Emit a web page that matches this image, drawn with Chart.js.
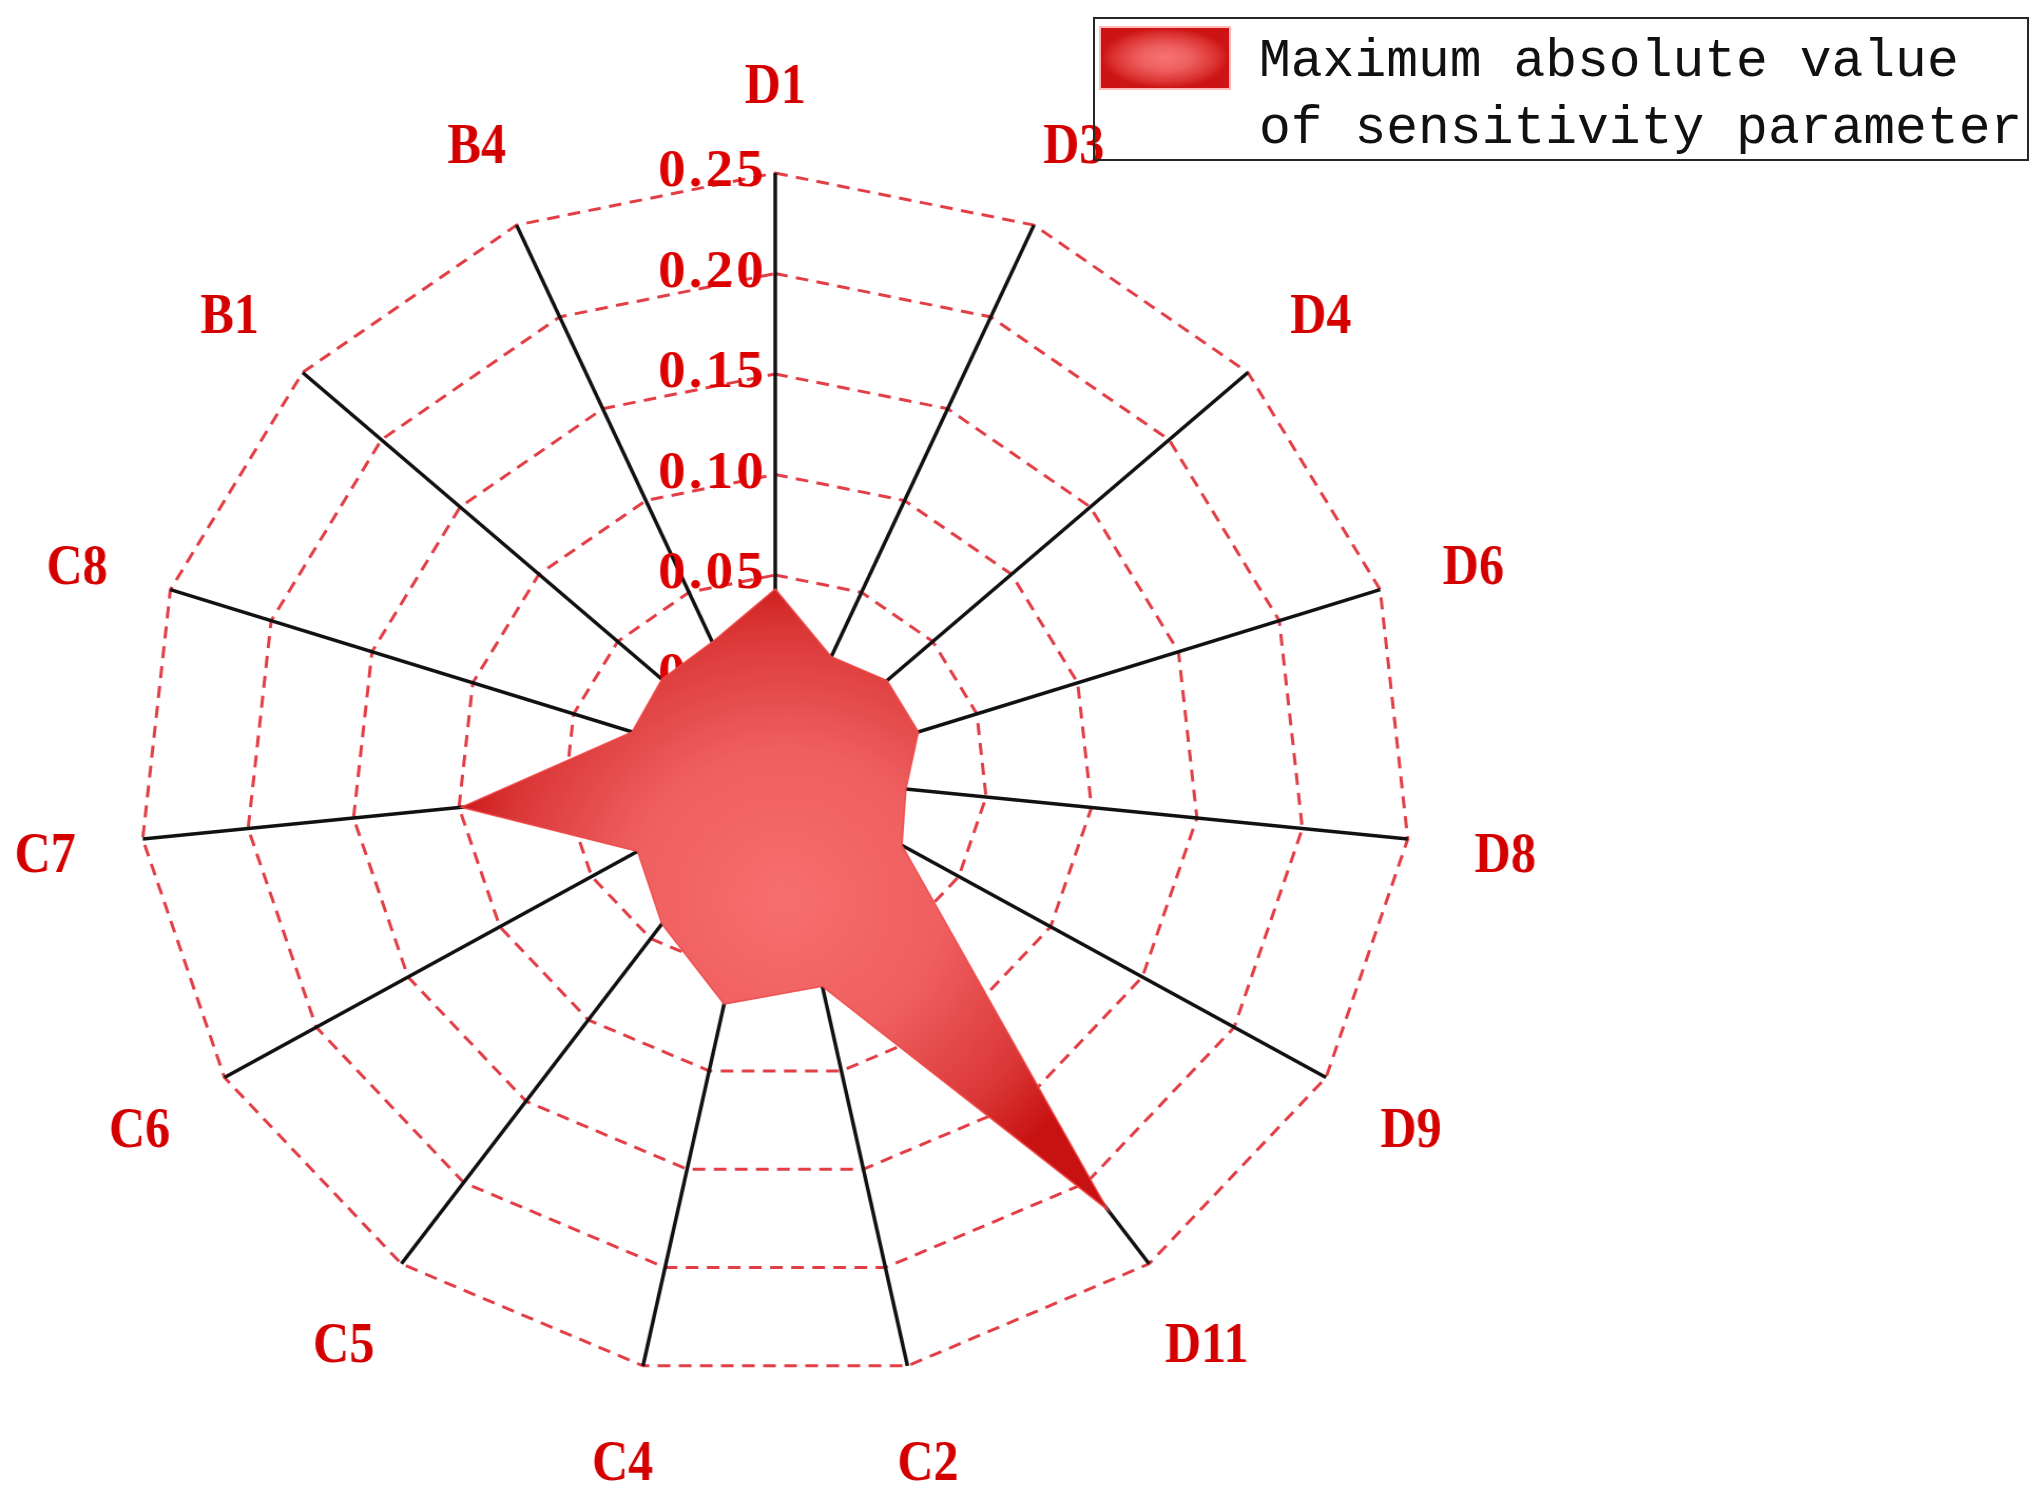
<!DOCTYPE html>
<html>
<head>
<meta charset="utf-8">
<script src="https://cdn.jsdelivr.net/npm/chart.js@4/dist/chart.umd.min.js"></script>
<style>
  html, body { margin: 0; padding: 0; background: #ffffff; }
  #wrap { position: relative; width: 2043px; height: 1497px; overflow: hidden; }
  #c { display: block; width: 2043px; height: 1497px; }
  #legend { position: absolute; left: 1093px; top: 17px; width: 932px; height: 140px;
            border: 2px solid #262626; background: transparent; }
  #swatch { position: absolute; left: 6px; top: 9px; width: 128px; height: 60px;
            background: radial-gradient(ellipse closest-side at 50% 50%, #f87474 0%, #ee5f5f 40%, #dc3232 80%, #cc1414 100%);
            box-shadow: 0 0 0 2px rgba(255,140,140,0.6); }
  #ltext { position: absolute; left: 164px; top: 10px; width: 780px;
           font-family: "Liberation Mono", monospace; font-size: 53px; line-height: 67px; color: #111; }
</style>
</head>
<body>
<div id="wrap">
  <canvas id="c" width="1937" height="1497" style="width:2043px;height:1497px;"></canvas>
  <div id="legend"><div id="swatch"></div><div id="ltext"></div></div>
</div>
<script>
// ---- data ----
const categories = ['D1', 'D3', 'D4', 'D6', 'D8', 'D9', 'D11', 'C2', 'C4', 'C5', 'C6', 'C7', 'C8', 'B1', 'B4'];
const sensitivityMax = [0.043, 0.015, 0.021, 0.021, 0.012, 0.019, 0.217, 0.057, 0.066, 0.041, 0.025, 0.099, 0.021, 0.022, 0.023];
const seriesName = 'Maximum absolute value of sensitivity parameter';
const tickValues = [0, 0.05, 0.10, 0.15, 0.20, 0.25];
const tickLabels = ['0', '0.05', '0.10', '0.15', '0.20', '0.25'];
const axisMin = -0.05, axisMax = 0.25, axisStep = 0.05;

// ---- layout (canvas px) ----
const CANVAS_W = 1937, CANVAS_H = 1497;
const CENTER_X = 735, CENTER_Y = 776, RADIUS = 603;
const LABEL_GAP = 93, LABEL_DY = 8, LABEL_XSCALE = 0.82, TICK_LABEL_DX = -111;

function fillGradient(chart) {
  const s = chart.scales && chart.scales.r;
  if (!s || !isFinite(s.xCenter) || !isFinite(s.drawingArea)) return '#e85050';
  let x0 = Infinity, x1 = -Infinity, y0 = Infinity, y1 = -Infinity;
  sensitivityMax.forEach((v, i) => {
    const p = s.getPointPositionForValue(i, v);
    x0 = Math.min(x0, p.x); x1 = Math.max(x1, p.x);
    y0 = Math.min(y0, p.y); y1 = Math.max(y1, p.y);
  });
  if (![x0, x1, y0, y1].every(isFinite)) return '#e85050';
  const cx = (x0 + x1) / 2, cy = (y0 + y1) / 2;
  const rad = Math.max(x1 - x0, y1 - y0) / 2 * 1.08;
  const g = chart.ctx.createRadialGradient(cx, cy, 0, cx, cy, rad);
  g.addColorStop(0, '#f86e6e');
  g.addColorStop(0.45, '#ef5f5f');
  g.addColorStop(0.8, '#db3838');
  g.addColorStop(1, '#c81212');
  return g;
}

const tickLabelPlugin = {
  id: 'tickLabelsLeft',
  beforeDatasetsDraw(chart) {
    const s = chart.scales.r, ctx = chart.ctx;
    ctx.save();
    ctx.font = 'bold 52px "Liberation Serif", serif';
    ctx.fillStyle = '#dd0000';
    ctx.textAlign = 'left';
    ctx.textBaseline = 'middle';
    if ('letterSpacing' in ctx) ctx.letterSpacing = '3px';
    tickValues.forEach((v, i) => {
      const y = s.yCenter - s.getDistanceFromCenterForValue(v);
      ctx.fillText(tickLabels[i], s.xCenter + TICK_LABEL_DX, y);
    });
    ctx.restore();
  }
};

const pointLabelPlugin = {
  id: 'pointLabelsCentered',
  afterDatasetsDraw(chart) {
    const s = chart.scales.r, ctx = chart.ctx;
    chart.data.labels.forEach((lab, i) => {
      const p = s.getPointPosition(i, s.drawingArea + LABEL_GAP);
      ctx.save();
      ctx.translate(p.x, p.y + LABEL_DY);
      ctx.scale(LABEL_XSCALE, 1);
      ctx.font = 'bold 58px "Liberation Serif", serif';
      ctx.fillStyle = '#d40000';
      ctx.textAlign = 'center';
      ctx.textBaseline = 'middle';
      ctx.fillText(lab, 0, 0);
      ctx.restore();
    });
  }
};

document.getElementById('ltext').textContent = seriesName;

new Chart(document.getElementById('c'), {
  type: 'radar',
  data: {
    labels: categories,
    datasets: [{
      label: seriesName,
      data: sensitivityMax,
      fill: 'start',
      backgroundColor: (c) => fillGradient(c.chart),
      borderColor: 'rgba(240,72,72,0.9)',
      borderWidth: 1.5,
      pointRadius: 0,
      pointHoverRadius: 0,
      tension: 0
    }]
  },
  options: {
    responsive: false,
    animation: false,
    devicePixelRatio: 1,
    layout: {
      padding: {
        left: CENTER_X - RADIUS,
        right: CANVAS_W - CENTER_X - RADIUS,
        top: CENTER_Y - RADIUS,
        bottom: CANVAS_H - CENTER_Y - RADIUS
      }
    },
    plugins: {
      legend: { display: false },
      tooltip: { enabled: false }
    },
    scales: {
      r: {
        min: axisMin,
        max: axisMax,
        startAngle: 0,
        ticks: { display: false, stepSize: axisStep },
        pointLabels: { display: false },
        grid: { circular: false, color: 'rgb(226,62,70)', lineWidth: 3 },
        border: { dash: [12, 8] },
        angleLines: { display: true, color: '#111111', lineWidth: 3.5 }
      }
    }
  },
  plugins: [tickLabelPlugin, pointLabelPlugin]
});
</script>
</body>
</html>
